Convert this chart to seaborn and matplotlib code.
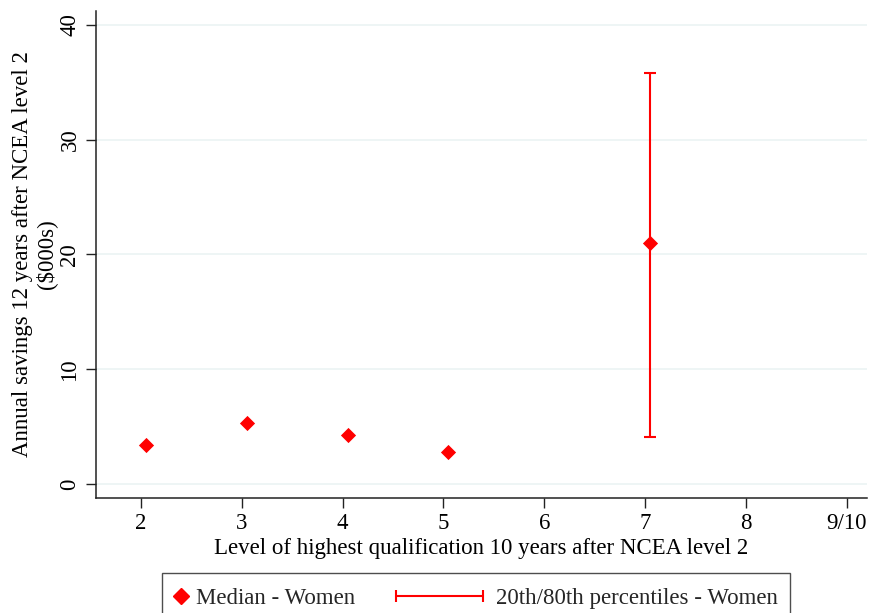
import matplotlib
matplotlib.use("Agg")
import matplotlib.pyplot as plt
import seaborn as sns
import pandas as pd
from matplotlib.lines import Line2D
from matplotlib.legend_handler import HandlerBase

# Data
levels = [2, 3, 4, 5, 7]
median_women = [3.4, 5.3, 4.3, 2.8, 21.0]
p_level = [7]
p20_women = [4.1]
p80_women = [35.8]
p_median = [21.0]
tick_pos = [2, 3, 4, 5, 6, 7, 8, 9]
tick_labels = ["2", "3", "4", "5", "6", "7", "8", "9/10"]

df = pd.DataFrame({"level": levels, "median": median_women})
df["x"] = df["level"] + 0.05

sns.set_style("white")
plt.rcParams["font.family"] = ["Liberation Serif", "DejaVu Serif"]

fig = plt.figure(figsize=(8.7, 6.13), dpi=100)
ax = fig.add_axes([0.110, 0.1876, 0.8866, 0.7944])

red = "#ff0000"
for y in [0, 10, 20, 30, 40]:
    ax.axhline(y, color="#eaf2f3", lw=1.1, zorder=0)

lo = [m - a for m, a in zip(p_median, p20_women)]
hi = [b - m for m, b in zip(p_median, p80_women)]
ax.errorbar([p + 0.05 for p in p_level], p_median, yerr=[lo, hi], fmt="none",
            ecolor=red, elinewidth=1.5, capsize=4.3, capthick=1.5, zorder=2)
sns.scatterplot(data=df, x="x", y="median", marker="D", s=60, color=red,
                linewidth=0, ax=ax, zorder=3)

ax.set_xlim(1.553, 9.2)
ax.set_ylim(-1.22, 41.2)
ax.set_xticks(tick_pos)
ax.set_xticklabels(tick_labels)
ax.set_yticks([0, 10, 20, 30, 40])
ax.set_yticklabels(["0", "10", "20", "30", "40"], rotation=90, va="center")
ax.tick_params(axis="both", labelsize=16.5, length=7, width=1, color="#222222",
               labelcolor="black", direction="out", pad=4)
ax.tick_params(axis="x", bottom=True)
ax.tick_params(axis="y", left=True)
for s in ["top", "right"]:
    ax.spines[s].set_visible(False)
for s in ["left", "bottom"]:
    ax.spines[s].set_color("#222222")
    ax.spines[s].set_linewidth(1.1)

ax.set_xlabel("Level of highest qualification 10 years after NCEA level 2",
              fontsize=16.5, labelpad=3, color="black")
ax.set_ylabel("Annual savings 12 years after NCEA level 2\n($000s)",
              fontsize=16.5, labelpad=1.5, linespacing=1.15, color="black")


class PctHandler(HandlerBase):
    # horizontal bar with caps at both ends, drawn left of the small handle box
    def create_artists(self, legend, orig_handle, xdescent, ydescent, width,
                       height, fontsize, trans):
        x1 = width - xdescent - 0.3 * fontsize
        x0 = x1 - 3.8 * fontsize
        y = height / 2.0 - ydescent
        ln = Line2D([x0, x1], [y, y], color=red, lw=1.5, marker="|",
                    markersize=9, markeredgewidth=1.5)
        ln.set_transform(trans)
        return [ln]


class DiamondHandler(HandlerBase):
    def create_artists(self, legend, orig_handle, xdescent, ydescent, width,
                       height, fontsize, trans):
        y = height / 2.0 - ydescent
        ln = Line2D([width / 2.0 - xdescent], [y], color=red, marker="D",
                    markersize=8, linestyle="none")
        ln.set_transform(trans)
        return [ln]


h1 = Line2D([], [], marker="D", color=red, linestyle="none")
h2 = Line2D([], [], color=red)
fig.legend([h1, h2], ["Median - Women", "20th/80th percentiles - Women"],
           loc="upper left", bbox_to_anchor=(162 / 870, 1 - 573 / 613),
           borderaxespad=0, ncol=2, fontsize=16.5, frameon=True,
           fancybox=False, edgecolor="#222222", handlelength=0.7,
           handleheight=1.15, handletextpad=0.3, columnspacing=5.15,
           borderpad=0.5,
           handler_map={h1: DiamondHandler(), h2: PctHandler()})

fig.savefig("out.png", dpi=100)
